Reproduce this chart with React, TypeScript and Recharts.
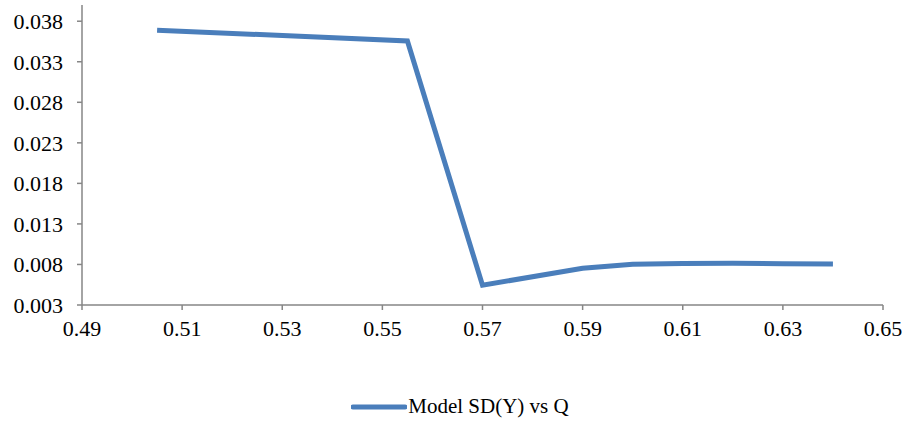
import React from "react";
import {
    LineChart,
    Line,
    XAxis,
    YAxis,
    Legend,
} from "recharts";

// Q values on the x axis and the model SD(Y)
const qValues = [0.505, 0.555, 0.57, 0.59, 0.6, 0.61, 0.62, 0.63, 0.64];
const sdValues = [0.0369, 0.03556, 0.00544, 0.00754, 0.00803, 0.00813, 0.00814, 0.0081, 0.00807];

const xTicks = [0.49, 0.51, 0.53, 0.55, 0.57, 0.59, 0.61, 0.63, 0.65];
const yTicks = [0.003, 0.008, 0.013, 0.018, 0.023, 0.028, 0.033, 0.038];

const seriesName = "Model SD(Y) vs Q";

const data = qValues.map((q, i) => ({ q, sd: sdValues[i] }));

const FONT = "Times New Roman, Liberation Serif, DejaVu Serif, serif";
const AXIS_COLOR = "#868686";
const LINE_COLOR = "#4a7ebb";

const LegendContent = () => (
    <div
        style={{
            display: "flex",
            alignItems: "center",
            justifyContent: "center",
            paddingLeft: 16,
            fontFamily: FONT,
            fontSize: 21,
            color: "#000",
        }}
    >
        <svg width={56} height={8} style={{ marginRight: 1 }}>
            <line x1={2} y1={4} x2={54} y2={4} stroke={LINE_COLOR} strokeWidth={5} strokeLinecap="round" />
        </svg>
        <span>{seriesName}</span>
    </div>
);

export default function App() {
    return (
        <div style={{ position: "absolute", left: 0, top: 0, width: 904, height: 427, background: "#fff", fontFamily: FONT }}>
            <LineChart
                width={904}
                height={427}
                data={data}
                margin={{ top: 5, right: 21, left: 0, bottom: 67 }}
            >
                <XAxis
                    dataKey="q"
                    type="number"
                    domain={[0.49, 0.65]}
                    ticks={xTicks}
                    tickFormatter={(v: number) => v.toFixed(2)}
                    stroke={AXIS_COLOR}
                    strokeWidth={1.5}
                    tickSize={5}
                    tickMargin={10}
                    height={30}
                    tick={{ fill: "#000", fontFamily: FONT, fontSize: 22 }}
                    allowDataOverflow
                />
                <YAxis
                    type="number"
                    domain={[0.003, 0.04]}
                    ticks={yTicks}
                    tickFormatter={(v: number) => v.toFixed(3)}
                    stroke={AXIS_COLOR}
                    strokeWidth={1.5}
                    tickSize={5}
                    tickMargin={14}
                    width={82}
                    tick={{ fill: "#000", fontFamily: FONT, fontSize: 22 }}
                    allowDataOverflow
                />
                <Legend
                    verticalAlign="bottom"
                    content={<LegendContent />}
                    wrapperStyle={{ top: 394, bottom: "auto", left: 0, width: 904 }}
                />
                <Line
                    type="linear"
                    dataKey="sd"
                    name={seriesName}
                    stroke={LINE_COLOR}
                    strokeWidth={5}
                    dot={false}
                    isAnimationActive={false}
                />
            </LineChart>
        </div>
    );
}
